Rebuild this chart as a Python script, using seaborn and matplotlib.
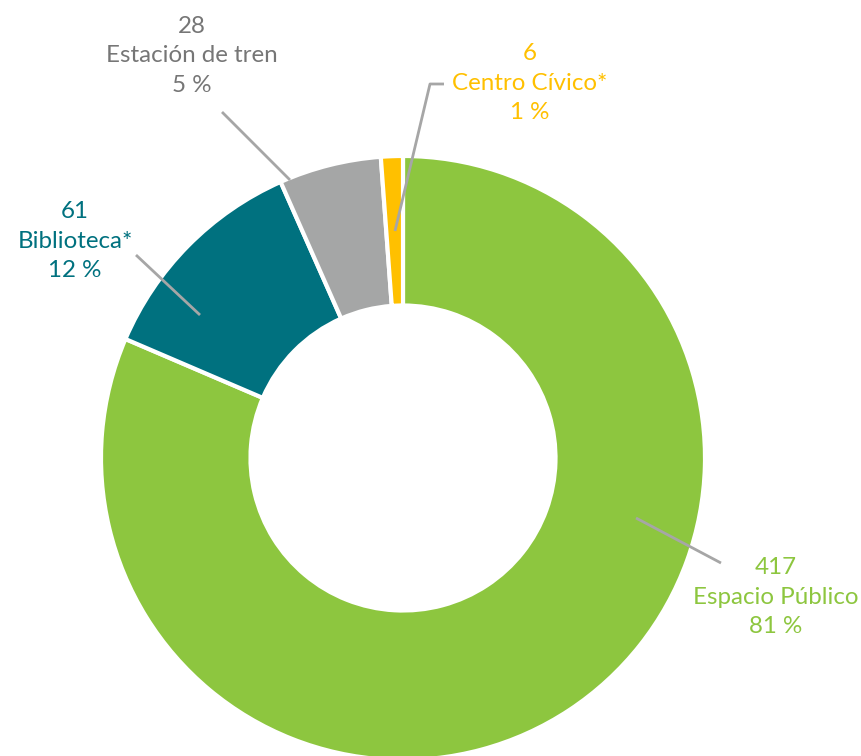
import matplotlib
matplotlib.use("Agg")
import matplotlib.pyplot as plt
import seaborn as sns

# Data
categories = ["Espacio Público", "Biblioteca*", "Estación de tren", "Centro Cívico*"]
counts = [417, 61, 28, 6]
wedge_colors = ["#8DC63F", "#00717F", "#A5A6A6", "#FFC000"]
text_colors = ["#8DC63F", "#00717F", "#767676", "#FFC000"]

sns.set_theme(style="white")
plt.rcParams["font.family"] = ["Lato", "DejaVu Sans"]

W, H = 862, 756
CX, CY, R = 403, 458, 302


def px(x, y):
    # pixel position (from top-left) -> data coordinates
    return (x - CX) / R, (CY - y) / R


fig = plt.figure(figsize=(W / 100, H / 100), dpi=100)
ax = fig.add_axes([0, 0, 1, 1])

ax.pie(counts, colors=wedge_colors, startangle=90, counterclock=False,
       radius=1, wedgeprops=dict(width=0.495, edgecolor="white", linewidth=3))

ax.set_xlim(px(0, 0)[0], px(W, 0)[0])
ax.set_ylim(px(0, H)[1], px(0, 0)[1])
ax.set_aspect("auto")
ax.axis("off")

total = sum(counts)
# label centre positions (px) and leader lines (px)
label_pos = [(776, 597), (75, 241), (192, 56), (530, 83)]
leaders = [
    [(636, 518), (721, 563)],
    [(200, 315), (136, 255)],
    [(290, 180), (222, 112)],
    [(395, 231), (430, 84), (444, 84)],
]

for cat, n, col, pos, pts in zip(categories, counts, text_colors, label_pos, leaders):
    pct = round(100 * n / total)
    tx, ty = px(*pos)
    ax.text(tx, ty, f"{n}\n{cat}\n{pct} %", color=col, fontsize=17.4,
            ha="center", va="center", multialignment="center", linespacing=1.52)
    xs, ys = zip(*[px(*p) for p in pts])
    ax.plot(xs, ys, color="#A6A6A6", linewidth=2, solid_capstyle="butt")

fig.savefig("out.png", dpi=100)
